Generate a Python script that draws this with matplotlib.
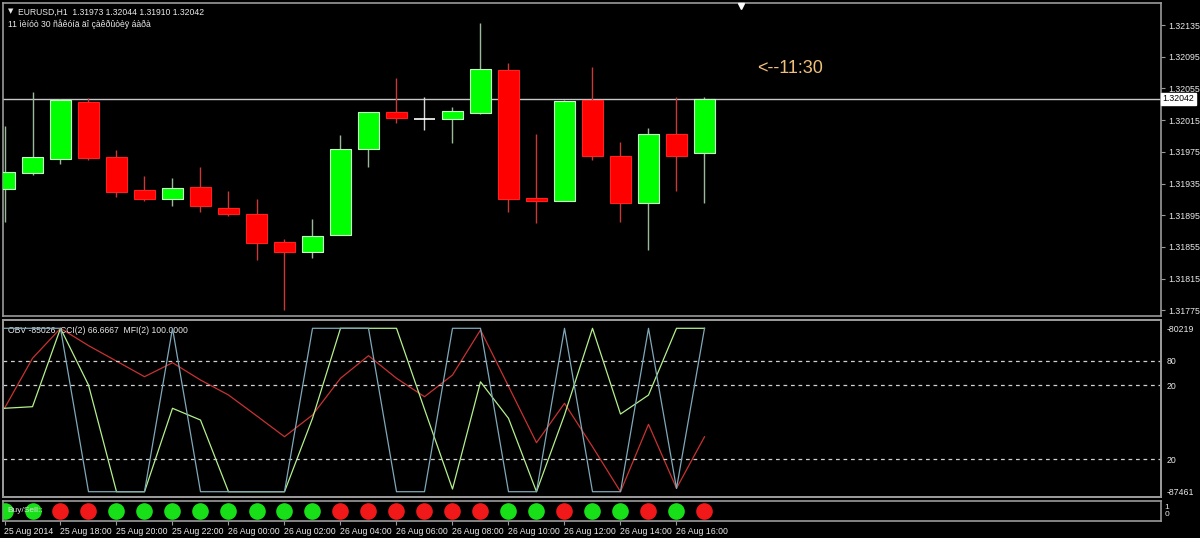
import numpy as np
import matplotlib
matplotlib.use("Agg")
import matplotlib.pyplot as plt
import matplotlib.transforms as mtransforms

# EURUSD H1 candles, 25 Aug 16:00 .. 26 Aug 17:00
opens = [1.31928, 1.31948, 1.31966, 1.32038, 1.31968, 1.31927, 1.31916, 1.31930, 1.31904, 1.31896,
         1.31861, 1.31849, 1.31870, 1.31979, 1.32025, 1.32017, 1.32017, 1.32024, 1.32078, 1.31917,
         1.31913, 1.32041, 1.31970, 1.31910, 1.31997, 1.31973]
highs = [1.32007, 1.32051, 1.32042, 1.32043, 1.31977, 1.31944, 1.31942, 1.31956, 1.31926, 1.31915,
         1.31865, 1.31890, 1.31996, 1.32025, 1.32068, 1.32044, 1.32032, 1.32138, 1.32087, 1.31998,
         1.32041, 1.32082, 1.31988, 1.32005, 1.32044, 1.32044]
lows = [1.31886, 1.31946, 1.31960, 1.31965, 1.31918, 1.31913, 1.31907, 1.31899, 1.31894, 1.31838,
        1.31775, 1.31841, 1.31870, 1.31956, 1.32011, 1.32002, 1.31986, 1.32023, 1.31899, 1.31885,
        1.31913, 1.31965, 1.31887, 1.31851, 1.31925, 1.31910]
closes = [1.31950, 1.31968, 1.32041, 1.31967, 1.31924, 1.31916, 1.31929, 1.31906, 1.31896, 1.31860,
          1.31849, 1.31869, 1.31978, 1.32025, 1.32018, 1.32017, 1.32026, 1.32080, 1.31915, 1.31913,
          1.32039, 1.31970, 1.31910, 1.31997, 1.31970, 1.32042]

# indicator sub-window
obv = [-83765, -81549, -80219, -80986, -81673, -82364, -81744, -82511, -83175, -84093,
       -85023, -84062, -82435, -81433, -82435, -83251, -82289, -80294, -82790, -85289,
       -83543, -85467, -87461, -84474, -87310, -85026]
cci = [1.4, 2.7, 66.67, 20.4, -66.67, -66.67, 1.4, -8.2, -66.67, -66.67,
       -66.67, -6.8, 66.67, 66.67, 66.67, 0.6, -64.5, 23.0, -6.8, -66.67,
       -4.0, 66.67, -3.3, 12.2, 66.67, 66.67]
mfi = [100, 100, 100, 0, 0, 0, 100, 0, 0, 0,
       0, 100, 100, 100, 0, 0, 100, 100, 0, 0,
       100, 0, 0, 100, 2, 100]

# Buy/Sell signal: 1 = buy (green), 0 = sell (red)
signals = [1, 1, 0, 0, 1, 1, 1, 1, 1, 1, 1, 1, 0, 0, 0, 0, 0, 0, 1, 1, 0, 1, 1, 0, 1, 0]

price_ticks = [1.32135, 1.32095, 1.32055, 1.32015, 1.31975, 1.31935, 1.31895, 1.31855, 1.31815, 1.31775]
date_labels = ["25 Aug 2014", "25 Aug 18:00", "25 Aug 20:00", "25 Aug 22:00", "26 Aug 00:00",
               "26 Aug 02:00", "26 Aug 04:00", "26 Aug 06:00", "26 Aug 08:00", "26 Aug 10:00",
               "26 Aug 12:00", "26 Aug 14:00", "26 Aug 16:00"]
last_price = 1.32042

W, H = 1200, 538
FONT = "Liberation Sans"
frame = "#9a9a9a"
txt = "#e8e8e8"

fig = plt.figure(figsize=(W / 100, H / 100), dpi=100, facecolor="black")

def px_axes(x0, y0, x1, y1):
    # pixel box (top-left origin) -> figure axes
    return fig.add_axes([x0 / W, (H - y1) / H, (x1 - x0) / W, (y1 - y0) / H])

xlim = (-1.5 / 28, (1161 - 4.5) / 28)
idx = np.arange(len(opens))

def style(ax):
    ax.set_facecolor("black")
    for s in ax.spines.values():
        s.set_color(frame)
        s.set_linewidth(1.2)
    ax.set_xlim(*xlim)
    ax.tick_params(axis="x", bottom=False, labelbottom=False)

# ---------------- main price pane ----------------
ax = px_axes(3, 3, 1161, 316)
style(ax)
ax.set_ylim(1.317678, 1.321628)

o = np.array(opens); c = np.array(closes); hi = np.array(highs); lo = np.array(lows)
up = c > o
dn = c < o
doji = c == o
ax.vlines(idx[up], lo[up], hi[up], color="#9ab89a", lw=1, zorder=2)
ax.vlines(idx[dn], lo[dn], hi[dn], color="#c83a3a", lw=1, zorder=2)
ax.vlines(idx[doji], lo[doji], hi[doji], color="#d8d8d8", lw=1, zorder=2)
bw = 0.78
ax.bar(idx[up], (c - o)[up], bottom=o[up], width=bw, color="#00ff00",
       edgecolor="#c8ffc8", lw=0.8, zorder=3)
ax.bar(idx[dn], (o - c)[dn], bottom=c[dn], width=bw, color="#ff0000",
       edgecolor="#ff2020", lw=0.8, zorder=3)
ax.hlines(o[doji], idx[doji] - bw / 2, idx[doji] + bw / 2, color="white", lw=1.2, zorder=3)

ax.axhline(last_price, color="#c8c8c8", lw=1, zorder=1)

ax.yaxis.tick_right()
ax.set_yticks(price_ticks)
ax.set_yticklabels([f"{v:.5f}" for v in price_ticks])
ax.tick_params(axis="y", colors=frame, labelcolor=txt, labelsize=6.3, length=3, pad=2)
for t in ax.get_yticklabels():
    t.set_fontfamily(FONT)

trans = mtransforms.blended_transform_factory(ax.transAxes, ax.transData)
ax.text(1.0015, last_price, f"{last_price:.5f}", transform=trans, ha="left", va="center",
        fontsize=6.3, family=FONT, color="black",
        bbox=dict(boxstyle="square,pad=0.15", fc="white", ec="white"))

ax.text(0.004, 0.985, "▼", transform=ax.transAxes, ha="left", va="top",
        fontsize=5, color=txt, family="DejaVu Sans")
ax.text(0.013, 0.985, "EURUSD,H1  1.31973 1.32044 1.31910 1.32042", transform=ax.transAxes,
        ha="left", va="top", fontsize=6.2, color=txt, family=FONT)
ax.text(0.004, 0.947, "11 ìèíóò 30 ñåêóíä äî çàêðûòèÿ áàðà", transform=ax.transAxes,
        ha="left", va="top", fontsize=6.2, color=txt, family=FONT)
ax.text(26.87, 1.32080, "<--11:30", ha="left", va="center", fontsize=13,
        color="#f0c07a", family=FONT)
ax.plot([(741 - 3) / 1158], [0.992], transform=ax.transAxes, marker="v", ms=5,
        color="white", clip_on=False, zorder=5)

# ---------------- indicator pane (OBV / CCI / MFI) ----------------
ai = px_axes(3, 320, 1161, 497)
style(ai)
ai.set_ylim(-87696, -79851)
ai.plot(idx, obv, color="#c83232", lw=0.9, zorder=3)

a_cci = ai.twinx()
a_cci.set_ylim(-70.99, 73.44)
a_cci.axhline(20, color="#d0d0d0", lw=0.9, ls=(0, (3, 3)))
a_cci.plot(idx, cci, color="#b4f08c", lw=0.9, zorder=4)
a_cci.set_yticks([20])
a_cci.set_yticklabels(["20"])

a_mfi = ai.twinx()
a_mfi.set_ylim(-3.24, 105.08)
for lvl in (80, 20):
    a_mfi.axhline(lvl, color="#d0d0d0", lw=0.9, ls=(0, (3, 3)))
a_mfi.plot(idx, mfi, color="#7fa8b8", lw=0.9, zorder=3)
a_mfi.set_yticks([80, 20])
a_mfi.set_yticklabels(["80", "20"])

# twinx moves the host's ticks to the left, so put them back on the right
ai.yaxis.tick_right()
ai.set_yticks([-80219, -87461])
ai.set_yticklabels(["-80219", "-87461"])

for a in (ai, a_cci, a_mfi):
    a.set_xlim(*xlim)
    a.tick_params(axis="y", length=0, pad=4, labelcolor=txt, labelsize=6.3)
    for t in a.get_yticklabels():
        t.set_fontfamily(FONT)
    for s in a.spines.values():
        s.set_color(frame)
        s.set_linewidth(1.2)
a_cci.patch.set_visible(False)
a_mfi.patch.set_visible(False)

ai.text(0.004, 0.965, "OBV -85026  CCI(2) 66.6667  MFI(2) 100.0000", transform=ai.transAxes,
        ha="left", va="top", fontsize=6.2, color=txt, family=FONT, zorder=6)

# ---------------- Buy/Sell pane ----------------
ab = px_axes(3, 501, 1161, 521)
style(ab)
ab.set_ylim(0, 1)
sig = np.array(signals)
ab.scatter(idx[sig == 1], np.full((sig == 1).sum(), 0.5), s=120, color="#18e018", zorder=3)
ab.scatter(idx[sig == 0], np.full((sig == 0).sum(), 0.5), s=120, color="#f01818", zorder=3)
ab.set_yticks([])
ab.text(0.004, 0.5, "Buy/Sell::", transform=ab.transAxes, ha="left", va="center",
        fontsize=6, color="#e0e0e0", family=FONT, zorder=5)
ab.text(1.003, 0.68, "1", transform=ab.transAxes, ha="left", va="center",
        fontsize=6, color=txt, family=FONT)
ab.text(1.003, 0.32, "0", transform=ab.transAxes, ha="left", va="center",
        fontsize=6, color=txt, family=FONT)

ab.set_xticks(np.arange(0, 2 * len(date_labels), 2))
ab.set_xticklabels(date_labels)
ab.tick_params(axis="x", bottom=True, labelbottom=True, colors=frame, labelcolor=txt,
               labelsize=6.3, length=3, pad=1)
for t in ab.get_xticklabels():
    t.set_fontfamily(FONT)
    t.set_horizontalalignment("left")

fig.savefig("out.png", dpi=100, facecolor="black")
